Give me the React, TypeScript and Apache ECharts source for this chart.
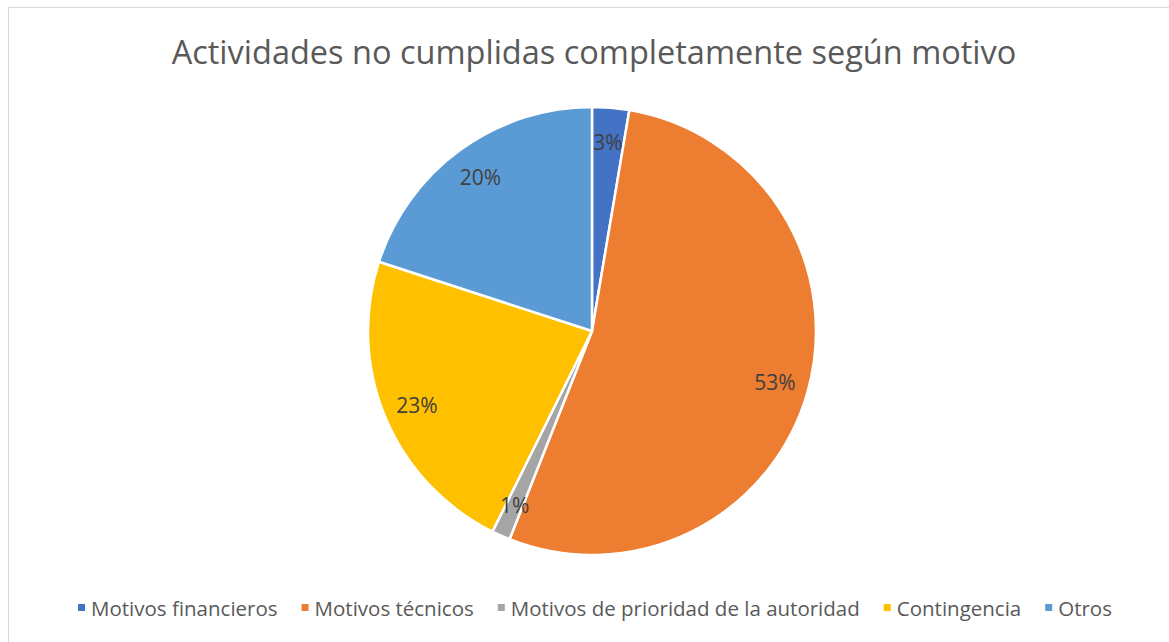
import React, { useEffect, useRef } from "react";
import * as echarts from "echarts";

const categories = [
  "Motivos financieros",
  "Motivos técnicos",
  "Motivos de prioridad de la autoridad",
  "Contingencia",
  "Otros",
];
const values = [4, 80, 2, 34, 30];
const colors = ["#4472C4", "#ED7D31", "#A5A5A5", "#FFC000", "#5B9BD5"];
const titleText = "Actividades no cumplidas completamente según motivo";

const FONT = "'Open Sans', sans-serif";

export default function App() {
  const ref = useRef<HTMLDivElement>(null);
  useEffect(() => {
    if (!ref.current) return;
    const chart = echarts.init(ref.current, undefined, { renderer: "svg" });
    const total = values.reduce((a, b) => a + b, 0);
    const data = categories.map((name, i) => ({
      name,
      value: values[i],
      itemStyle: { color: colors[i] },
    }));
    chart.setOption({
      animation: false,
      backgroundColor: "#ffffff",
      title: {
        text: titleText,
        left: "center",
        top: 22,
        textStyle: {
          fontFamily: FONT,
          fontSize: 32.5,
          fontWeight: "normal",
          color: "#595959",
        },
      },
      legend: {
        bottom: 25,
        left: "center",
        icon: "rect",
        itemWidth: 9,
        itemHeight: 9,
        itemGap: 22,
        textStyle: { fontFamily: FONT, fontSize: 20.5, color: "#595959" },
        data: categories,
      },
      series: [
        {
          type: "pie",
          center: [583, 323],
          radius: [0, 224],
          startAngle: 90,
          clockwise: true,
          data,
          itemStyle: { borderColor: "#ffffff", borderWidth: 2.5 },
          label: { show: false },
          labelLine: { show: false },
          emphasis: { disabled: true },
        },
        {
          type: "pie",
          center: [583, 323],
          radius: [150, 224],
          startAngle: 90,
          clockwise: true,
          silent: true,
          legendHoverLink: false,
          data: categories.map((name, i) => ({
            name,
            value: values[i],
            itemStyle: { color: "rgba(0,0,0,0)" },
          })),
          itemStyle: { borderWidth: 0 },
          label: {
            show: true,
            position: "inside",
            fontFamily: FONT,
            fontSize: 21,
            color: "#404040",
            formatter: (p: any) => Math.round((p.value / total) * 100) + "%",
          },
          labelLine: { show: false },
          emphasis: { disabled: true },
        },
      ],
    });
    return () => chart.dispose();
  }, []);
  return (
    <div
      style={{
        position: "absolute",
        left: 8,
        top: 7,
        width: 1170,
        height: 640,
        border: "1px solid #d9d9d9",
        background: "#fff",
      }}
    >
      <div ref={ref} style={{ width: 1170, height: 640 }} />
    </div>
  );
}
